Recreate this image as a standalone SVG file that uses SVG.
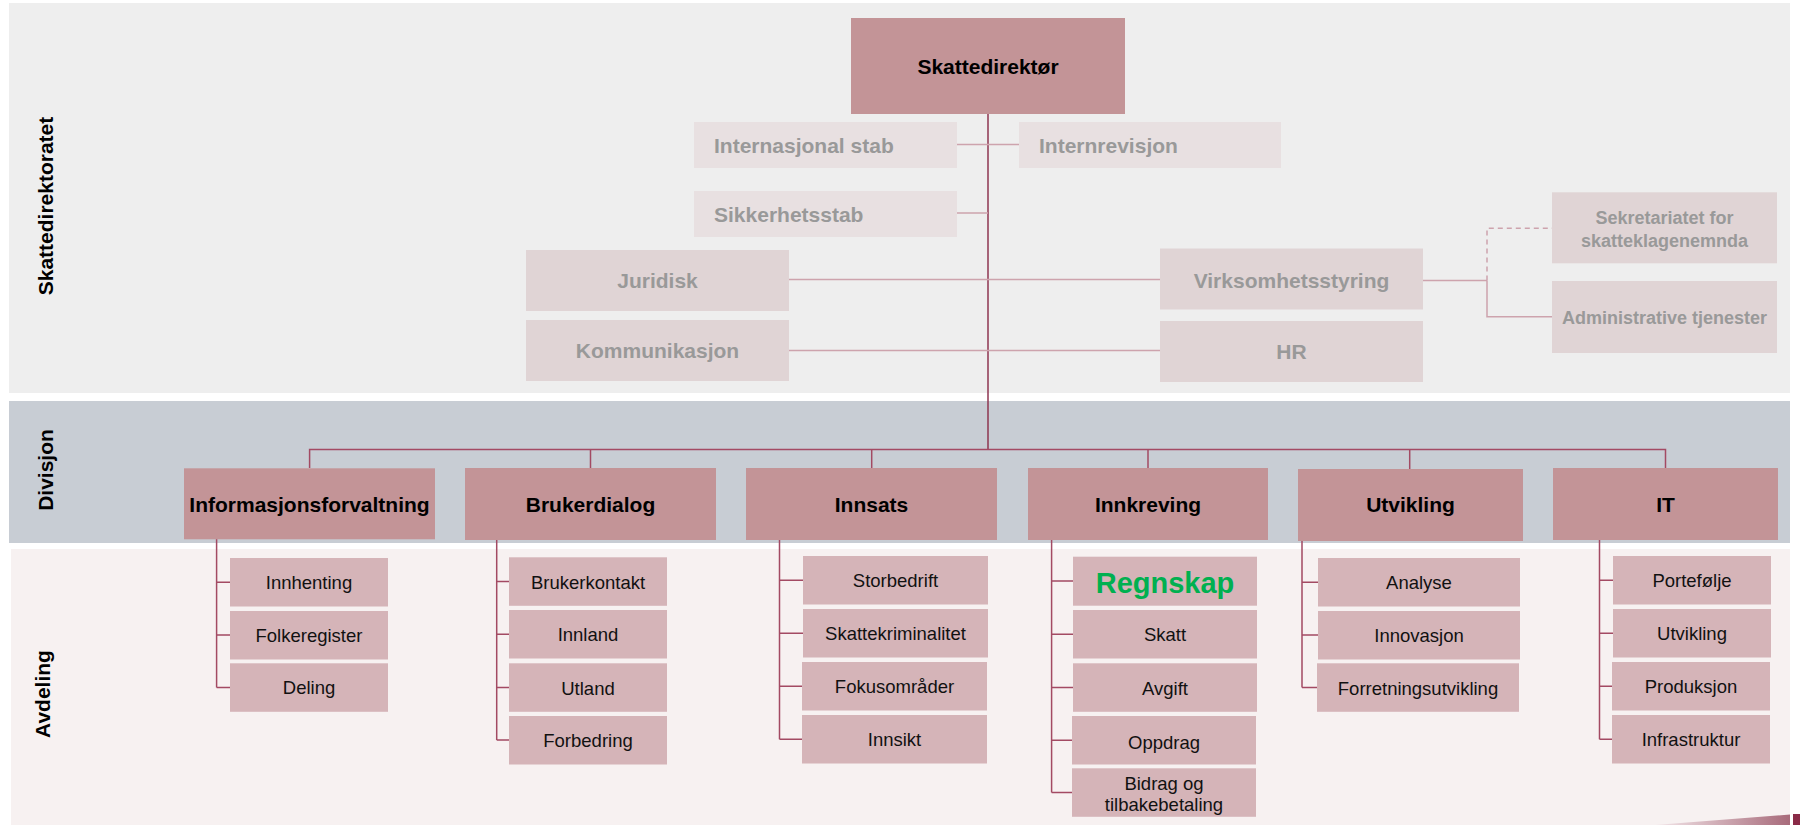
<svg xmlns="http://www.w3.org/2000/svg" width="1800" height="825" viewBox="0 0 1800 825">
<defs>
<style>
.bg{fill:#ffffff}
.p1{fill:#eeeeee}
.p2{fill:#c8cdd4}
.p3{fill:#f7f1f1}
.side{font-family:"Liberation Sans",Arial,sans-serif;font-weight:bold;font-size:21px;fill:#000;text-anchor:middle}
.topbox{fill:#c39497}
.staff{fill:#e8e0e1}
.unit{fill:#e0d4d5}
.gt{font-family:"Liberation Sans",Arial,sans-serif;font-weight:bold;font-size:21px;fill:#999999}
.gts{font-family:"Liberation Sans",Arial,sans-serif;font-weight:bold;font-size:18px;fill:#999999;text-anchor:middle}
.bt{font-family:"Liberation Sans",Arial,sans-serif;font-weight:bold;font-size:21px;fill:#000;text-anchor:middle}
.divbox{fill:#c39497}
.dept{fill:#d5b4b8}
.dt{font-family:"Liberation Sans",Arial,sans-serif;font-size:18.5px;fill:#111;text-anchor:middle}
.ln{stroke:#a34a63;stroke-width:1.5;fill:none}
.lm{stroke:#8e3550;stroke-width:1.5;fill:none}
.ll{stroke:#cda3ad;stroke-width:1.5;fill:none}
.ld{stroke:#cda3ad;stroke-width:1.5;fill:none;stroke-dasharray:5 4}
</style>
<linearGradient id="wedge" x1="0" y1="0" x2="1" y2="0">
<stop offset="0" stop-color="#f3e6e9"/>
<stop offset="1" stop-color="#a86b7b"/>
</linearGradient>
</defs>

<rect class="bg" x="0" y="0" width="1800" height="825"/>

<g id="panels">
<rect class="p1" x="9" y="3" width="1781" height="390"/>
<rect class="p2" x="9" y="401" width="1781" height="142"/>
<rect class="p3" x="11" y="549" width="1779" height="276"/>
<polygon points="1655,825 1790,814.5 1790,825" fill="url(#wedge)"/>
<rect x="1793" y="814" width="7" height="11" fill="#8a2b47"/>
<text class="side" transform="translate(53,206) rotate(-90)">Skattedirektoratet</text>
<text class="side" transform="translate(53,470) rotate(-90)">Divisjon</text>
<text class="side" transform="translate(50,694) rotate(-90)">Avdeling</text>
</g>

<g id="connectors">
<line class="lm" x1="988" y1="113" x2="988" y2="449.5"/>
<line class="ll" x1="957" y1="144.5" x2="1019" y2="144.5"/>
<line class="ll" x1="957" y1="213" x2="988" y2="213"/>
<line class="ll" x1="789" y1="279.5" x2="1160" y2="279.5"/>
<line class="ll" x1="789" y1="350.5" x2="1160" y2="350.5"/>
<line class="ll" x1="1423" y1="280.5" x2="1487" y2="280.5"/>
<path class="ll" d="M1487,280.5 V316.7 H1552"/>
<path class="ld" d="M1487,280.5 V228.3 H1552"/>
<path class="ln" d="M309.6,468 V449.5 H1665.5 V468"/>
<line class="ln" x1="590.5" y1="449.5" x2="590.5" y2="468"/>
<line class="ln" x1="871.7" y1="449.5" x2="871.7" y2="468"/>
<line class="ln" x1="1148" y1="449.5" x2="1148" y2="468"/>
<line class="ln" x1="1409.7" y1="449.5" x2="1409.7" y2="469"/>
<path class="ln" d="M216.6,539 V687.5 M216.6,582.3 H230 M216.6,635 H230 M216.6,687.5 H230"/>
<path class="ln" d="M496.7,540 V740 M496.7,581.5 H509 M496.7,634.2 H509 M496.7,687.5 H509 M496.7,740 H509"/>
<path class="ln" d="M779.5,540 V739.2 M779.5,580.3 H803 M779.5,633.3 H803 M779.5,686.3 H802 M779.5,739.2 H802"/>
<path class="ln" d="M1051.6,540 V792.5 M1051.6,581 H1073 M1051.6,634.3 H1073 M1051.6,687.5 H1073 M1051.6,740.2 H1073 M1051.6,792.5 H1073"/>
<path class="ln" d="M1302,541 V687.5 M1302,582.3 H1318 M1302,635 H1318 M1302,687.5 H1318"/>
<path class="ln" d="M1599.5,540 V739.2 M1599.5,580.3 H1613 M1599.5,633.3 H1613 M1599.5,686.3 H1613 M1599.5,739.2 H1613"/>
</g>

<g id="skattedirektor">
<rect class="topbox" x="851" y="18" width="274" height="96"/>
<text class="bt" x="988" y="73.5">Skattedirektør</text>
</g>
<g id="internasjonal-stab">
<rect class="staff" x="694" y="122" width="263" height="46"/>
<text class="gt" x="714" y="152.5">Internasjonal stab</text>
</g>
<g id="internrevisjon">
<rect class="staff" x="1019" y="122" width="262" height="46"/>
<text class="gt" x="1039" y="152.5">Internrevisjon</text>
</g>
<g id="sikkerhetsstab">
<rect class="staff" x="694" y="191" width="263" height="46"/>
<text class="gt" x="714" y="221.5">Sikkerhetsstab</text>
</g>
<g id="juridisk">
<rect class="unit" x="526" y="250" width="263" height="61"/>
<text class="gt" x="657.5" y="288" text-anchor="middle">Juridisk</text>
</g>
<g id="kommunikasjon">
<rect class="unit" x="526" y="320" width="263" height="61"/>
<text class="gt" x="657.5" y="358" text-anchor="middle">Kommunikasjon</text>
</g>
<g id="virksomhetsstyring">
<rect class="unit" x="1160" y="248.5" width="263" height="61"/>
<text class="gt" x="1291.5" y="288" text-anchor="middle">Virksomhetsstyring</text>
</g>
<g id="hr">
<rect class="unit" x="1160" y="321" width="263" height="61"/>
<text class="gt" x="1291.5" y="359" text-anchor="middle">HR</text>
</g>
<g id="sekretariatet">
<rect class="unit" x="1552" y="192.3" width="225" height="71"/>
<text class="gts" x="1664.5" y="224">Sekretariatet for</text>
<text class="gts" x="1664.5" y="246.7">skatteklagenemnda</text>
</g>
<g id="administrative-tjenester">
<rect class="unit" x="1552" y="281" width="225" height="72"/>
<text class="gts" x="1664.5" y="323.5">Administrative tjenester</text>
</g>

<g id="informasjonsforvaltning">
<rect class="divbox" x="184" y="468.3" width="251" height="71"/>
<text class="bt" x="309.5" y="511.5">Informasjonsforvaltning</text>
</g>
<g id="brukerdialog">
<rect class="divbox" x="465" y="468" width="251" height="72"/>
<text class="bt" x="590.5" y="511.5">Brukerdialog</text>
</g>
<g id="innsats">
<rect class="divbox" x="746" y="468" width="251" height="72"/>
<text class="bt" x="871.5" y="511.5">Innsats</text>
</g>
<g id="innkreving">
<rect class="divbox" x="1028" y="468" width="240" height="72"/>
<text class="bt" x="1148" y="511.5">Innkreving</text>
</g>
<g id="utvikling">
<rect class="divbox" x="1298" y="469" width="225" height="72"/>
<text class="bt" x="1410.5" y="512">Utvikling</text>
</g>
<g id="it">
<rect class="divbox" x="1553" y="468" width="225" height="72"/>
<text class="bt" x="1665.5" y="511.5">IT</text>
</g>

<g id="innhenting"><rect class="dept" x="230" y="558" width="158" height="48.5"/><text class="dt" x="309" y="589.3">Innhenting</text></g>
<g id="folkeregister"><rect class="dept" x="230" y="611" width="158" height="48.5"/><text class="dt" x="309" y="641.7">Folkeregister</text></g>
<g id="deling"><rect class="dept" x="230" y="663.3" width="158" height="48.5"/><text class="dt" x="309" y="694.3">Deling</text></g>

<g id="brukerkontakt"><rect class="dept" x="509" y="557.3" width="158" height="48.5"/><text class="dt" x="588" y="588.5">Brukerkontakt</text></g>
<g id="innland"><rect class="dept" x="509" y="610" width="158" height="48.5"/><text class="dt" x="588" y="641.2">Innland</text></g>
<g id="utland"><rect class="dept" x="509" y="663.3" width="158" height="48.5"/><text class="dt" x="588" y="694.5">Utland</text></g>
<g id="forbedring"><rect class="dept" x="509" y="716" width="158" height="48.5"/><text class="dt" x="588" y="747.2">Forbedring</text></g>

<g id="storbedrift"><rect class="dept" x="803" y="556" width="185" height="48.5"/><text class="dt" x="895.5" y="587.3">Storbedrift</text></g>
<g id="skattekriminalitet"><rect class="dept" x="803" y="609" width="185" height="48.5"/><text class="dt" x="895.5" y="640.3">Skattekriminalitet</text></g>
<g id="fokusomrader"><rect class="dept" x="802" y="662" width="185" height="48.5"/><text class="dt" x="894.5" y="693.3">Fokusområder</text></g>
<g id="innsikt"><rect class="dept" x="802" y="715" width="185" height="48.5"/><text class="dt" x="894.5" y="746.3">Innsikt</text></g>

<g id="regnskap"><rect class="dept" x="1073" y="556.7" width="184" height="49"/><text x="1165" y="592.5" font-family="'Liberation Sans',Arial,sans-serif" font-weight="bold" font-size="29" fill="#00b050" text-anchor="middle">Regnskap</text></g>
<g id="skatt"><rect class="dept" x="1073" y="610" width="184" height="48.5"/><text class="dt" x="1165" y="641.2">Skatt</text></g>
<g id="avgift"><rect class="dept" x="1073" y="663.3" width="184" height="48.5"/><text class="dt" x="1165" y="694.5">Avgift</text></g>
<g id="oppdrag"><rect class="dept" x="1072" y="716" width="184" height="48.5"/><text class="dt" x="1164" y="749">Oppdrag</text></g>
<g id="bidrag"><rect class="dept" x="1072" y="768.3" width="184" height="48.5"/><text class="dt" x="1164" y="790">Bidrag og</text><text class="dt" x="1164" y="811">tilbakebetaling</text></g>

<g id="analyse"><rect class="dept" x="1318" y="558" width="202" height="48.5"/><text class="dt" x="1419" y="589.3">Analyse</text></g>
<g id="innovasjon"><rect class="dept" x="1318" y="611" width="202" height="48.5"/><text class="dt" x="1419" y="642">Innovasjon</text></g>
<g id="forretningsutvikling"><rect class="dept" x="1317" y="663.3" width="202" height="48.5"/><text class="dt" x="1418" y="694.5">Forretningsutvikling</text></g>

<g id="portefolje"><rect class="dept" x="1613" y="556" width="158" height="48.5"/><text class="dt" x="1692" y="587.3">Portefølje</text></g>
<g id="it-utvikling"><rect class="dept" x="1613" y="609" width="158" height="48.5"/><text class="dt" x="1692" y="640.3">Utvikling</text></g>
<g id="produksjon"><rect class="dept" x="1612" y="662" width="158" height="48.5"/><text class="dt" x="1691" y="693.3">Produksjon</text></g>
<g id="infrastruktur"><rect class="dept" x="1612" y="715" width="158" height="48.5"/><text class="dt" x="1691" y="746.3">Infrastruktur</text></g>
</svg>
